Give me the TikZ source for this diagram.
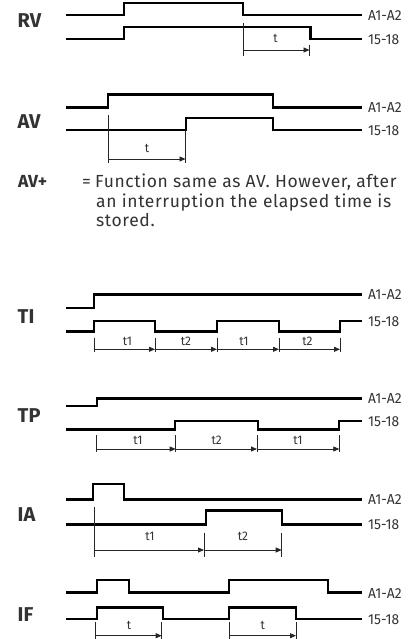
\documentclass[tikz,border=0pt]{standalone}
\usepackage{fontspec}
\setmainfont{Fira Sans}
\newfontfamily\sigf[FakeStretch=0.95]{Fira Sans}
\newfontfamily\fnf{Fira Sans}
\newfontfamily\bodyf[LetterSpace=3.5]{Fira Sans}
\newfontfamily\boldf{Fira Sans}
\usetikzlibrary{arrows.meta}
\definecolor{txt}{HTML}{333333}
\tikzset{
  wave/.style={line width=2.7pt, line join=miter, line cap=butt, black},
  tick/.style={line width=0.8pt, black!85},
  dimarrow/.style={line width=0.8pt, black!85, -{Triangle[length=6pt,width=5pt]}},
  sig/.style={anchor=west, inner sep=0pt, text=txt, font=\sigf\fontsize{14.5}{14.5}\selectfont},
  fn/.style={anchor=west, inner sep=0pt, text=txt, font=\fnf\bfseries\fontsize{20}{20}\selectfont},
  tlab/.style={inner sep=0pt, text=txt, font=\sigf\fontsize{12.5}{12.5}\selectfont},
  body/.style={anchor=base west, inner sep=0pt, text=txt, font=\bodyf\fontsize{17.5}{19}\selectfont},
  bodybold/.style={anchor=base west, inner sep=0pt, text=txt, font=\boldf\bfseries\fontsize{17.5}{19}\selectfont}
}
\begin{document}
\begin{tikzpicture}[x=1pt,y=-1pt]
\useasboundingbox (0,0) rectangle (415,639);

% ---------- RV ----------
\node[fn] (rv) at (17.5,20.5) {RV};
\draw[wave] (66,15) -- (124,15) -- (124,3) -- (243,3) -- (243,15) -- (362,15);
\draw[wave] (66,39) -- (124,39) -- (124,27) -- (310.5,27) -- (310.5,39) -- (362,39);
\node[sig] (rva) at (368,15.5) {A1-A2};
\node[sig] (rvb) at (368,39.5) {15-18};
\draw[tick] (243,23) -- (243,56);
\draw[tick] (309.5,45) -- (309.5,56);
\coordinate (rvs) at (243,50);
\coordinate (rve) at (309.5,50);
\draw[dimarrow] (rvs) -- (rve);
\node[tlab] (rvt) at (275.5,38.5) {t};

% ---------- AV ----------
\node[fn] (av) at (17.5,122) {AV};
\draw[wave] (66,107.5) -- (108,107.5) -- (108,94.5) -- (273,94.5) -- (273,107.5) -- (362,107.5);
\draw[wave] (66,130) -- (186,130) -- (186,118) -- (273,118) -- (273,130) -- (362,130);
\node[sig] (ava) at (368,108) {A1-A2};
\node[sig] (avb) at (368,130.5) {15-18};
\draw[tick] (108,115) -- (108,163);
\draw[tick] (185.5,130) -- (185.5,163);
\coordinate (avs) at (108,159);
\coordinate (ave) at (185.5,159);
\draw[dimarrow] (avs) -- (ave);
\node[tlab] (avt) at (147,148) {t};

% ---------- AV+ ----------
\node[bodybold] (avp) at (18,187.3) {AV+};
\node[body] (eq) at (82,187.3) {=};
\node[body] (l1) at (95,187.3) {Function same as AV. However, after};
\node[body] (l2) at (96,207) {an interruption the elapsed time is};
\node[body] (l3) at (96,226.3) {stored.};

% ---------- TI ----------
\node[fn] (ti) at (17.5,317) {TI};
\draw[wave] (66,308) -- (94,308) -- (94,294.5) -- (362,294.5);
\draw[wave] (66,331.5) -- (94,331.5) -- (94,321) -- (155,321) -- (155,331.5) -- (217,331.5) -- (217,321) -- (279,321) -- (279,331.5) -- (340,331.5) -- (340,321) -- (362,321);
\node[sig] (tia) at (368,295) {A1-A2};
\node[sig] (tib) at (368,321.5) {15-18};
\foreach \x in {94,155,217,279,340} \draw[tick] (\x,337.7) -- (\x,351.7);
\coordinate (ti0) at (94,349.3);
\coordinate (ti1) at (155,349.3);
\coordinate (ti2) at (217,349.3);
\coordinate (ti3) at (279,349.3);
\coordinate (ti4) at (340,349.3);
\draw[dimarrow] (ti0) -- (ti1);
\draw[dimarrow] (ti1) -- (ti2);
\draw[dimarrow] (ti2) -- (ti3);
\draw[dimarrow] (ti3) -- (ti4);
\node[tlab] (tit1) at (127.5,341.7) {t1};
\node[tlab] (tit2) at (186,341.7) {t2};
\node[tlab] (tit3) at (244,341.7) {t1};
\node[tlab] (tit4) at (307.5,341.7) {t2};

% ---------- TP ----------
\node[fn] (tp) at (17.5,415.7) {TP};
\draw[wave] (66,406) -- (97,406) -- (97,398.3) -- (362,398.3);
\draw[wave] (66,429.3) -- (175,429.3) -- (175,421) -- (258,421) -- (258,429.3) -- (339,429.3) -- (339,421) -- (362,421);
\node[sig] (tpa) at (368,398.8) {A1-A2};
\node[sig] (tpb) at (368,421.5) {15-18};
\foreach \x in {96,175.7,257,339.3} \draw[tick] (\x,435) -- (\x,451.7);
\coordinate (tp0) at (96,449);
\coordinate (tp1) at (175.7,449);
\coordinate (tp2) at (257,449);
\coordinate (tp3) at (339.3,449);
\draw[dimarrow] (tp0) -- (tp1);
\draw[dimarrow] (tp1) -- (tp2);
\draw[dimarrow] (tp2) -- (tp3);
\node[tlab] (tpt1) at (138,440) {t1};
\node[tlab] (tpt2) at (216.7,440) {t2};
\node[tlab] (tpt3) at (298,440) {t1};

% ---------- IA ----------
\node[fn] (ia) at (17.5,515) {IA};
\draw[wave] (66,499.3) -- (93,499.3) -- (93,484) -- (124,484) -- (124,499.3) -- (362,499.3);
\draw[wave] (66,524.3) -- (206,524.3) -- (206,510.7) -- (282,510.7) -- (282,524.3) -- (362,524.3);
\node[sig] (iaa) at (368,499.8) {A1-A2};
\node[sig] (iab) at (368,524.8) {15-18};
\draw[tick] (94,506.7) -- (94,557);
\draw[tick] (204,532.7) -- (204,557);
\draw[tick] (281.7,532.7) -- (281.7,557);
\coordinate (ia0) at (94,550);
\coordinate (ia1) at (204,550);
\coordinate (ia2) at (281.7,550);
\draw[dimarrow] (ia0) -- (ia1);
\draw[dimarrow] (ia1) -- (ia2);
\node[tlab] (iat1) at (150,536.7) {t1};
\node[tlab] (iat2) at (243,536.7) {t2};

% ---------- IF ----------
\node[fn] (if) at (17.5,615) {IF};
\draw[wave] (66,592.7) -- (97,592.7) -- (97,580) -- (129,580) -- (129,592.7) -- (229,592.7) -- (229,580) -- (328,580) -- (328,592.7) -- (362,592.7);
\draw[wave] (66,619) -- (97,619) -- (97,607.7) -- (163,607.7) -- (163,619) -- (229,619) -- (229,607.7) -- (296,607.7) -- (296,619) -- (362,619);
\node[sig] (ifa) at (368,593.2) {A1-A2};
\node[sig] (ifb) at (368,619.5) {15-18};
\foreach \x in {95.7,161.7,229.3,296} \draw[tick] (\x,622.3) -- (\x,639);
\coordinate (if0) at (95.7,635.7);
\coordinate (if1) at (161.7,635.7);
\coordinate (if2) at (229.3,635.7);
\coordinate (if3) at (296,635.7);
\draw[dimarrow] (if0) -- (if1);
\draw[dimarrow] (if2) -- (if3);
\node[tlab] (ift1) at (129,625) {t};
\node[tlab] (ift2) at (262.7,625) {t};
\end{tikzpicture}
\end{document}
